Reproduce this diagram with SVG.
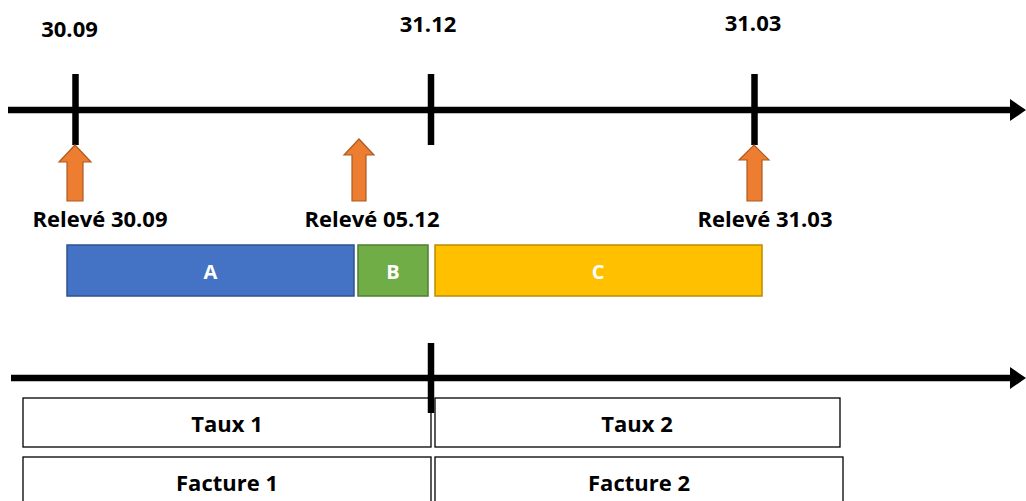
<svg xmlns="http://www.w3.org/2000/svg" width="1026" height="501" viewBox="0 0 1026 501">
<style>
.lbl{font-family:"Open Sans","Liberation Sans",sans-serif;font-weight:700;font-size:22px;fill:#000}
.bar{font-family:"Open Sans","Liberation Sans",sans-serif;font-weight:700;font-size:20px;fill:#fff}
.axis{stroke:#000;stroke-width:6.5;fill:none}
.up{fill:#ED7D31;stroke:#AE5A21;stroke-width:1.2}
.box{fill:#fff;stroke:#000;stroke-width:1.3}
</style>
<rect width="1026" height="501" fill="#fff"/>
<g id="connectors">
  <line class="axis" x1="8" y1="110" x2="1012" y2="110"/>
  <polygon points="1010,99 1026,110 1010,121" fill="#000"/>
  <line class="axis" x1="75.5" y1="74" x2="75.5" y2="145"/>
  <line class="axis" x1="431" y1="74" x2="431" y2="145"/>
  <line class="axis" x1="754.5" y1="74" x2="754.5" y2="145"/>
  <line class="axis" x1="11" y1="378" x2="1012" y2="378"/>
  <polygon points="1010,367 1026,378 1010,389" fill="#000"/>
</g>
<g id="date-30-09"><text class="lbl" x="69.5" y="37" text-anchor="middle">30.09</text></g>
<g id="date-31-12"><text class="lbl" x="428" y="32" text-anchor="middle">31.12</text></g>
<g id="date-31-03"><text class="lbl" x="753" y="31" text-anchor="middle">31.03</text></g>
<g id="releve-30-09">
  <polygon class="up" points="75,145 91,162 83,162 83,201 67,201 67,162 59,162"/>
  <text class="lbl" x="100" y="227" text-anchor="middle">Relevé 30.09</text>
</g>
<g id="releve-05-12">
  <polygon class="up" points="359,139 374,155 366,155 366,201 352,201 352,155 344,155"/>
  <text class="lbl" x="372" y="227" text-anchor="middle">Relevé 05.12</text>
</g>
<g id="releve-31-03">
  <polygon class="up" points="754,145 769,160 762,160 762,201 747,201 747,160 739,160"/>
  <text class="lbl" x="765" y="227" text-anchor="middle">Relevé 31.03</text>
</g>
<g id="bar-A">
  <rect x="67" y="245" width="287" height="51" fill="#4472C4" stroke="#2F528F" stroke-width="1.5"/>
  <text class="bar" x="210.5" y="279" text-anchor="middle">A</text>
</g>
<g id="bar-B">
  <rect x="358" y="245" width="70" height="51" fill="#70AD47" stroke="#507E32" stroke-width="1.5"/>
  <text class="bar" x="393" y="279" text-anchor="middle">B</text>
</g>
<g id="bar-C">
  <rect x="435" y="245" width="327" height="51" fill="#FFC000" stroke="#BC8C00" stroke-width="1.5"/>
  <text class="bar" x="598" y="279" text-anchor="middle">C</text>
</g>
<g id="taux-1">
  <rect class="box" x="23" y="398" width="408" height="49"/>
  <text class="lbl" x="227" y="432" text-anchor="middle">Taux 1</text>
</g>
<g id="taux-2">
  <rect class="box" x="435" y="398" width="405" height="49"/>
  <text class="lbl" x="637" y="432" text-anchor="middle">Taux 2</text>
</g>
<g id="facture-1">
  <rect class="box" x="23" y="457" width="408" height="50"/>
  <text class="lbl" x="227" y="491" text-anchor="middle">Facture 1</text>
</g>
<g id="facture-2">
  <rect class="box" x="435" y="457" width="408" height="50"/>
  <text class="lbl" x="639" y="491" text-anchor="middle">Facture 2</text>
</g>
<g id="bottom-tick">
  <line class="axis" x1="431" y1="343" x2="431" y2="413"/>
</g>
</svg>
